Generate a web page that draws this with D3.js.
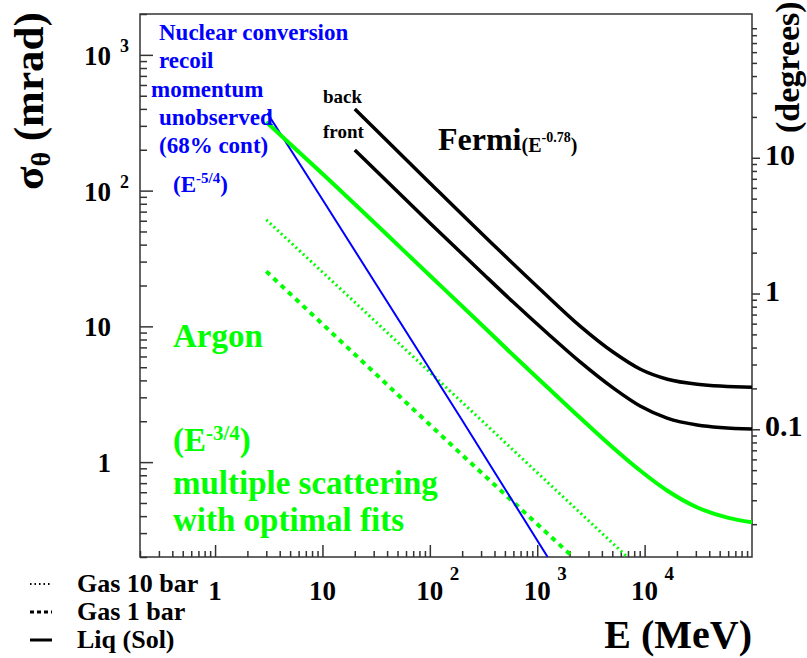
<!DOCTYPE html>
<html>
<head>
<meta charset="utf-8">
<script src="https://cdn.jsdelivr.net/npm/d3@7"></script>
<style>
  body { margin: 0; background: #fff; }
  text { font-family: "Liberation Serif", "Times New Roman", serif; font-weight: bold; }
</style>
</head>
<body>
<svg id="chart" width="807" height="658"></svg>
<script>
// values: [E (MeV), sigma (mrad)]
var fermiBack = [[20, 400], [100, 114], [434, 36.8], [1069, 18.7], [2523, 10.0], [5117, 6.44],
                 [9140, 4.83], [16300, 4.08], [31000, 3.75], [100000, 3.56]];
var fermiFront = [[20, 199], [100, 57.7], [294, 25.6], [596, 15.1], [1236, 8.93], [2506, 5.47],
                  [5085, 3.52], [9078, 2.59], [16190, 2.11], [30830, 1.88], [100000, 1.75]];
var argonLiq = [[3, 320], [10, 133], [100, 23.7], [295, 10.5], [599, 6.12], [1243, 3.56],
                [2523, 2.11], [5117, 1.27], [9140, 0.863], [16300, 0.615], [31000, 0.463],
                [59100, 0.39], [100000, 0.36]];
var argonGas10 = [[3, 61], [295, 2.07], [6900, 0.2]];
var argonGas1 = [[3, 25.4], [184, 1.2], [2150, 0.2]];
var nuclearRecoil = [[3.1, 375], [3.3, 340], [10, 86], [192, 2.14], [1250, 0.2]];

var energyTicks = [1, 10, 100, 1000, 10000];
var energyBase = ["1", "10", "10", "10", "10"];
var energyExp = ["", "", "2", "3", "4"];
var mradTicks = [1, 10, 100, 1000];
var mradBase = ["1", "10", "10", "10"];
var mradExp = ["", "", "2", "3"];
var degreeTicks = [0.1, 1, 10];
var degreeLabels = ["0.1", "1", "10"];
var legendNames = ["Gas 10 bar", "Gas 1 bar", "Liq (Sol)"];

var MRAD_PER_DEG = 1000 * Math.PI / 180;
var green = "#00ff00", blue = "#0000ff", axisColor = "#333";

var svg = d3.select("#chart");
var x = d3.scaleLog().domain([0.2, 1e5]).range([140, 752]);
var y = d3.scaleLog().domain([0.2, 2000]).range([557, 14]);
var yDeg = d3.scaleLog().domain([0.2 / MRAD_PER_DEG, 2000 / MRAD_PER_DEG]).range([557, 14]);

function isMajor(v) {
    var l = Math.log10(v);
    return Math.abs(l - Math.round(l)) < 1e-9;
}

function tickAxis(axis, scale, values, size, tx, ty) {
    var g = svg.append("g")
        .attr("transform", "translate(" + tx + "," + ty + ")")
        .attr("color", axisColor)
        .call(axis(scale).tickValues(values).tickSize(size).tickFormat(""));
    g.select(".domain").remove();
    g.selectAll("line").attr("stroke-width", 1.5);
}

// left axis (mrad), ticks inside
tickAxis(d3.axisRight, y, y.ticks().filter(v => !isMajor(v)), 7, 140, 0);
tickAxis(d3.axisRight, y, mradTicks, 13, 140, 0);
// bottom axis (MeV), ticks inside
tickAxis(d3.axisTop, x, x.ticks().filter(v => !isMajor(v)), 6, 0, 557);
tickAxis(d3.axisTop, x, energyTicks, 12, 0, 557);
// right axis (degrees), ticks outside
tickAxis(d3.axisRight, yDeg, yDeg.ticks().filter(v => !isMajor(v)), 5, 752, 0);
tickAxis(d3.axisRight, yDeg, degreeTicks, 8, 752, 0);

svg.append("rect")
    .attr("x", 140).attr("y", 14).attr("width", 612).attr("height", 543)
    .attr("fill", "none").attr("stroke", axisColor).attr("stroke-width", 1.5);

// tick labels
mradTicks.forEach(function (v, i) {
    svg.append("text").attr("x", 111).attr("y", y(v) + 10)
        .attr("text-anchor", "end").attr("font-size", 27).text(mradBase[i]);
    if (mradExp[i]) {
        svg.append("text").attr("x", 120).attr("y", y(v) - 3)
            .attr("font-size", 18).text(mradExp[i]);
    }
});
energyTicks.forEach(function (v, i) {
    svg.append("text").attr("x", x(v)).attr("y", 600)
        .attr("text-anchor", "middle").attr("font-size", 27).text(energyBase[i]);
    if (energyExp[i]) {
        svg.append("text").attr("x", x(v) + 20).attr("y", 580)
            .attr("font-size", 19).text(energyExp[i]);
    }
});
degreeTicks.forEach(function (v, i) {
    svg.append("text").attr("x", 765).attr("y", yDeg(v) + 7)
        .attr("font-size", 30).text(degreeLabels[i]);
});

// axis titles
var yTitle = svg.append("text").attr("transform", "translate(43,190) rotate(-90)")
    .attr("font-size", 43);
yTitle.append("tspan").text("σ");
yTitle.append("tspan").attr("font-size", 28).attr("dy", 7).text("θ");
yTitle.append("tspan").attr("dy", -7).text(" (mrad)");

svg.append("text").attr("transform", "translate(799,133) rotate(-90)")
    .attr("font-size", 34).text("(degrees)");

svg.append("text").attr("x", 752).attr("y", 648).attr("text-anchor", "end")
    .attr("font-size", 40).text("E (MeV)");

// curves
svg.append("clipPath").attr("id", "plot")
    .append("rect").attr("x", 140).attr("y", 14).attr("width", 612).attr("height", 543);

var smooth = d3.line().x(d => x(d[0])).y(d => y(d[1])).curve(d3.curveMonotoneX);
var straight = d3.line().x(d => x(d[0])).y(d => y(d[1]));

var curves = svg.append("g").attr("clip-path", "url(#plot)").attr("fill", "none");
curves.append("path").attr("d", straight(argonGas10))
    .attr("stroke", green).attr("stroke-width", 3).attr("stroke-dasharray", "2,3");
curves.append("path").attr("d", straight(argonGas1))
    .attr("stroke", green).attr("stroke-width", 4).attr("stroke-dasharray", "5,5");
curves.append("path").attr("d", straight(nuclearRecoil))
    .attr("stroke", blue).attr("stroke-width", 2);
curves.append("path").attr("d", smooth(argonLiq))
    .attr("stroke", green).attr("stroke-width", 4);
curves.append("path").attr("d", smooth(fermiBack))
    .attr("stroke", "#000").attr("stroke-width", 3.5);
curves.append("path").attr("d", smooth(fermiFront))
    .attr("stroke", "#000").attr("stroke-width", 3.5);

// annotations
var blueLines = [["Nuclear conversion", 159, 40], ["recoil", 159, 68], ["momentum", 151, 97],
                 ["unobserved", 159, 125], ["(68% cont)", 159, 153]];
blueLines.forEach(function (l) {
    svg.append("text").attr("x", l[1]).attr("y", l[2]).attr("font-size", 23)
        .attr("fill", blue).text(l[0]);
});
var e54 = svg.append("text").attr("x", 173).attr("y", 192).attr("font-size", 23).attr("fill", blue);
e54.append("tspan").text("(E");
e54.append("tspan").attr("font-size", 15).attr("dy", -9).text("-5/4");
e54.append("tspan").attr("dy", 9).text(")");

svg.append("text").attr("x", 323).attr("y", 103).attr("font-size", 19).text("back");
svg.append("text").attr("x", 323).attr("y", 138).attr("font-size", 19).text("front");

var fermi = svg.append("text").attr("x", 438).attr("y", 150).attr("font-size", 32);
fermi.append("tspan").text("Fermi");
fermi.append("tspan").attr("font-size", 20).attr("dy", 2).text("(E");
fermi.append("tspan").attr("font-size", 14).attr("dy", -10).text("-0.78");
fermi.append("tspan").attr("font-size", 20).attr("dy", 10).text(")");

var greenText = svg.append("g").attr("fill", green).attr("font-size", 33);
greenText.append("text").attr("x", 173).attr("y", 347).text("Argon");
var e34 = greenText.append("text").attr("x", 173).attr("y", 451);
e34.append("tspan").text("(E");
e34.append("tspan").attr("font-size", 21).attr("dy", -11).text("-3/4");
e34.append("tspan").attr("dy", 11).text(")");
greenText.append("text").attr("x", 173).attr("y", 494).text("multiple scattering");
greenText.append("text").attr("x", 173).attr("y", 531).text("with optimal fits");

// legend
var legendDash = [["1.5,3", 2], ["4,3", 3], [null, 3]];
legendNames.forEach(function (name, i) {
    var ly = 584 + i * 28;
    svg.append("line").attr("x1", 30).attr("x2", 52).attr("y1", ly).attr("y2", ly)
        .attr("stroke", "#000").attr("stroke-width", legendDash[i][1])
        .attr("stroke-dasharray", legendDash[i][0]);
    svg.append("text").attr("x", 77).attr("y", ly + 8).attr("font-size", 26).text(name);
});
</script>
</body>
</html>
